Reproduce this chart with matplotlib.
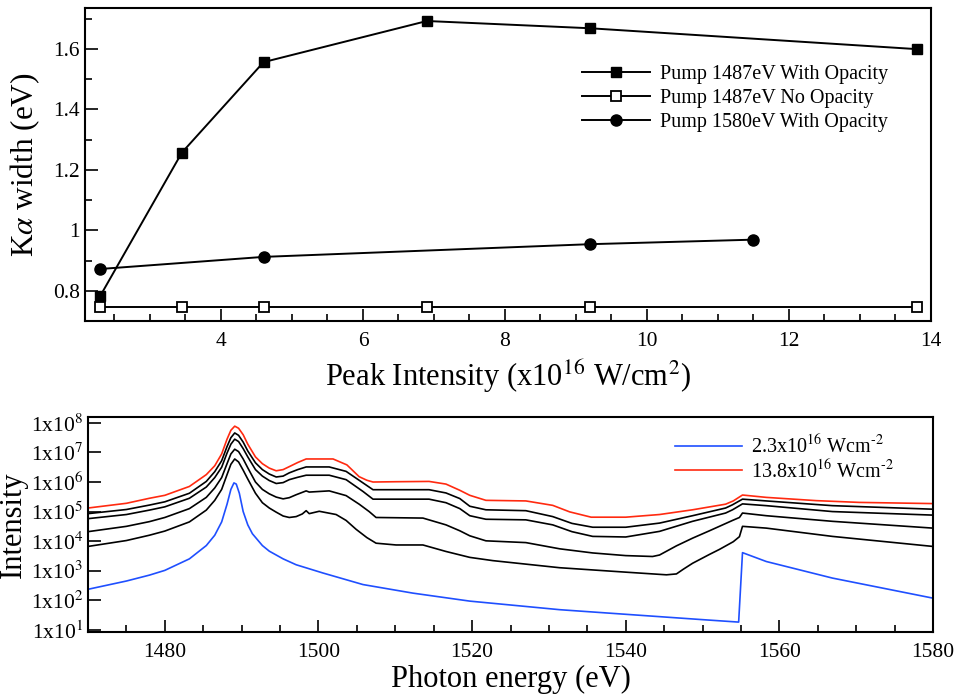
import numpy as np
import matplotlib
matplotlib.use("Agg")
import matplotlib.pyplot as plt
from matplotlib.ticker import MultipleLocator, LogLocator, FixedLocator, NullFormatter

plt.rcParams['font.family'] = ['Liberation Serif', 'DejaVu Serif']
plt.rcParams['mathtext.fontset'] = 'stix'

# ---------------- top panel data ----------------
x_sq = [2.3, 3.45, 4.6, 6.9, 9.2, 13.8]
y_sq = [0.783, 1.257, 1.556, 1.692, 1.668, 1.599]
x_open = [2.3, 3.45, 4.6, 6.9, 9.2, 13.8]
y_open = [0.747, 0.747, 0.747, 0.747, 0.747, 0.747]
x_circ = [2.3, 4.6, 9.2, 11.5]
y_circ = [0.872, 0.912, 0.954, 0.969]
labels_top = ["Pump 1487eV With Opacity", "Pump 1487eV No Opacity", "Pump 1580eV With Opacity"]

# ---------------- bottom panel data (log10 intensity) ----------------
E_red = [1470.0, 1475.0, 1478.0, 1480.0, 1483.2, 1485.4, 1486.5, 1487.4, 1488.1, 1488.6, 1489.1,
         1489.6, 1490.2, 1490.8, 1491.8, 1492.7, 1493.6, 1494.5, 1495.4, 1496.2, 1497.3, 1498.4,
         1501.9, 1503.7, 1505.3, 1506.3, 1507.1, 1510.1, 1514.4, 1516.6, 1518.4, 1519.7,
         1521.8, 1527.0, 1530.5, 1532.7, 1535.5, 1540.0, 1544.4, 1548.7, 1553.0, 1554.0, 1555.2,
         1558.3, 1564.8, 1570.4, 1580.0]
L_red = [5.12, 5.28, 5.45, 5.55, 5.85, 6.25, 6.55, 6.95, 7.45, 7.75, 7.89,
         7.82, 7.60, 7.28, 6.85, 6.62, 6.47, 6.38, 6.42, 6.52, 6.66, 6.78,
         6.78, 6.58, 6.18, 6.06, 6.00, 6.01, 6.02, 5.93, 5.72, 5.55,
         5.38, 5.36, 5.21, 4.99, 4.81, 4.81, 4.90, 5.06, 5.25, 5.36, 5.56,
         5.48, 5.37, 5.31, 5.27]

E_k1 = [1470.0, 1475.0, 1478.0, 1480.0, 1483.2, 1485.4, 1486.5, 1487.4, 1488.1, 1488.6, 1489.1,
        1489.6, 1490.2, 1490.8, 1491.8, 1492.7, 1493.6, 1494.5, 1495.4, 1496.2, 1497.3, 1498.4,
        1501.4, 1503.6, 1505.8, 1507.1, 1514.4, 1516.6, 1518.4, 1519.7, 1521.8, 1527.0,
        1530.5, 1533.0, 1535.7, 1540.0, 1544.4, 1548.7, 1553.0, 1553.9, 1555.2, 1558.3, 1566.9,
        1580.0]
L_k1 = [4.93, 5.07, 5.22, 5.33, 5.62, 6.02, 6.35, 6.72, 7.20, 7.50, 7.66,
        7.58, 7.35, 7.05, 6.65, 6.42, 6.27, 6.17, 6.20, 6.31, 6.42, 6.51,
        6.51, 6.36, 5.97, 5.74, 5.74, 5.63, 5.44, 5.18, 5.06, 5.03,
        4.83, 4.60, 4.47, 4.47, 4.61, 4.86, 5.12, 5.23, 5.42, 5.36, 5.20,
        5.08]

E_k2 = [1470.0, 1475.0, 1478.0, 1480.0, 1483.2, 1485.4, 1486.5, 1487.4, 1488.1, 1488.6, 1489.1,
        1489.6, 1490.2, 1490.8, 1491.8, 1492.7, 1493.6, 1494.5, 1495.4, 1496.2, 1497.3, 1498.4,
        1501.4, 1503.6, 1505.8, 1507.1, 1514.4, 1516.6, 1518.4, 1519.7, 1521.8, 1527.0,
        1530.5, 1533.0, 1535.7, 1540.0, 1544.4, 1548.7, 1553.0, 1553.9, 1555.2, 1558.3, 1566.9,
        1580.0]
L_k2 = [4.76, 4.90, 5.05, 5.16, 5.45, 5.83, 6.15, 6.50, 6.98, 7.28, 7.45,
        7.37, 7.13, 6.85, 6.42, 6.20, 6.05, 5.95, 5.98, 6.08, 6.16, 6.23,
        6.23, 6.08, 5.68, 5.42, 5.42, 5.30, 5.10, 4.86, 4.74, 4.72,
        4.55, 4.32, 4.16, 4.14, 4.33, 4.67, 4.95, 5.06, 5.26, 5.20, 5.00,
        4.88]

E_k3 = [1470.0, 1475.0, 1478.0, 1480.0, 1483.2, 1485.4, 1486.5, 1487.4, 1488.1, 1488.6, 1489.1,
        1489.6, 1490.2, 1490.8, 1491.8, 1492.7, 1493.6, 1494.5, 1495.4, 1496.2, 1497.1, 1498.4,
        1498.8, 1501.4, 1503.6, 1505.3, 1506.6, 1507.5, 1513.6, 1516.6, 1518.4, 1519.7, 1521.8,
        1527.0, 1531.4, 1535.7, 1540.0, 1543.5, 1544.4, 1546.6, 1548.7, 1550.9, 1553.9, 1554.8,
        1555.2, 1558.3, 1566.9, 1580.0]
L_k3 = [4.32, 4.50, 4.66, 4.80, 5.10, 5.48, 5.80, 6.15, 6.62, 6.95, 7.11,
        7.03, 6.78, 6.48, 6.00, 5.75, 5.60, 5.49, 5.43, 5.47, 5.57, 5.70,
        5.66, 5.70, 5.54, 5.25, 5.00, 4.80, 4.78, 4.55, 4.35, 4.18, 4.01,
        3.95, 3.74, 3.60, 3.51, 3.48, 3.53, 3.84, 4.10, 4.35, 4.70, 4.80,
        4.95, 4.86, 4.67, 4.44]

E_k4 = [1470.0, 1475.0, 1478.0, 1480.0, 1483.2, 1485.4, 1486.5, 1487.4, 1488.1, 1488.6, 1489.1,
        1489.6, 1490.2, 1490.8, 1491.8, 1492.7, 1493.6, 1494.5, 1495.4, 1496.2, 1497.1, 1497.9,
        1498.4, 1498.8, 1500.1, 1502.3, 1503.6, 1504.9, 1506.3, 1507.5, 1510.1, 1513.6, 1516.6,
        1519.7, 1522.7, 1531.4, 1540.0, 1545.3, 1546.6, 1547.5, 1548.7, 1550.9, 1552.2, 1554.0,
        1554.8, 1555.2, 1558.3, 1566.9, 1580.0]
L_k4 = [3.82, 4.02, 4.20, 4.34, 4.65, 5.05, 5.38, 5.75, 6.25, 6.60, 6.78,
        6.68, 6.40, 6.10, 5.62, 5.30, 5.12, 4.98, 4.85, 4.80, 4.83, 4.92,
        5.03, 4.93, 5.01, 4.90, 4.70, 4.40, 4.12, 3.93, 3.87, 3.87, 3.65,
        3.45, 3.34, 3.10, 2.95, 2.86, 2.89, 3.05, 3.25, 3.55, 3.72, 3.98,
        4.15, 4.50, 4.44, 4.16, 3.82]

E_blue = [1470.0, 1475.0, 1478.0, 1480.0, 1483.2, 1485.4, 1486.5, 1487.4, 1488.1, 1488.6, 1489.0,
          1489.3, 1489.7, 1490.2, 1490.8, 1491.4, 1492.7, 1493.6, 1495.4, 1497.1, 1500.6, 1505.8,
          1512.3, 1519.7, 1531.4, 1549.6, 1554.7, 1555.2, 1558.3, 1566.9, 1580.0]
L_blue = [2.37, 2.65, 2.85, 3.01, 3.40, 3.85, 4.20, 4.65, 5.25, 5.75, 5.97,
          5.93, 5.62, 5.00, 4.55, 4.25, 3.85, 3.66, 3.40, 3.20, 2.92, 2.53,
          2.24, 1.97, 1.68, 1.35, 1.26, 3.61, 3.31, 2.75, 2.07]

labels_bottom = [r"2.3x10$^{16}$ Wcm$^{\text{-2}}$", r"13.8x10$^{16}$ Wcm$^{\text{-2}}$"]
ytick_exp = [1, 2, 3, 4, 5, 6, 7, 8]

W, H = 961, 698
fig = plt.figure(figsize=(W / 100, H / 100), dpi=100)

def box(l, t, r, b):
    return [l / W, 1 - b / H, (r - l) / W, (b - t) / H]

# ---------------- top ----------------
ax1 = fig.add_axes(box(85, 8, 931, 321))
lw = 1.4
ax1.plot(x_sq, y_sq, color='black', lw=lw, marker='s', ms=7.5, mfc='black', mec='black',
         label=labels_top[0], zorder=3)
ax1.plot(x_open, y_open, color='black', lw=lw, marker='s', ms=7, mfc='white', mec='black',
         mew=1.3, label=labels_top[1], zorder=3)
ax1.plot(x_circ, y_circ, color='black', lw=lw, marker='o', ms=8, mfc='black', mec='black',
         label=labels_top[2], zorder=3)
ax1.set_xlim(2.085, 14.0)
ax1.set_ylim(0.70, 1.735)
ax1.xaxis.set_major_locator(MultipleLocator(2))
ax1.xaxis.set_minor_locator(MultipleLocator(0.5))
ax1.yaxis.set_major_locator(FixedLocator([0.8, 1.0, 1.2, 1.4, 1.6]))
ax1.yaxis.set_minor_locator(MultipleLocator(0.1))
ax1.set_yticklabels(["0.8", "1", "1.2", "1.4", "1.6"])
ax1.tick_params(which='both', direction='in', top=False, right=False, labelsize=15.5, width=1.2)
ax1.tick_params(which='major', length=9)
ax1.tick_params(which='minor', length=5)
ax1.tick_params(axis='x', pad=8)
for s in ax1.spines.values():
    s.set_linewidth(1.5)
ax1.set_xlabel(r"Peak Intensity (x10$^{16}$ W/cm$^{2}$)", fontsize=22, labelpad=4)
ax1.set_ylabel(r"K$\alpha$ width (eV)", fontsize=22.5, labelpad=8)
ax1.legend(loc='upper left', bbox_to_anchor=(0.5875, 0.818), frameon=False, fontsize=14.5,
           handlelength=3.4, handletextpad=0.45, labelspacing=0.25, borderpad=0,
           borderaxespad=0)

# ---------------- bottom ----------------
ax2 = fig.add_axes(box(88, 417, 933, 632))
lw2 = 1.2
for E, L in [(E_k1, L_k1), (E_k2, L_k2), (E_k3, L_k3), (E_k4, L_k4)]:
    ax2.plot(E, 10 ** np.array(L), color='black', lw=lw2, solid_joinstyle='round')
ax2.plot(E_blue, 10 ** np.array(L_blue), color='#1f4fff', lw=lw2, solid_joinstyle='round',
         label=labels_bottom[0])
ax2.plot(E_red, 10 ** np.array(L_red), color='#ff2a10', lw=lw2, solid_joinstyle='round',
         label=labels_bottom[1])
ax2.set_yscale('log')
ax2.set_xlim(1470, 1580)
ax2.set_ylim(10 ** 0.925, 10 ** 8.2)
ax2.xaxis.set_major_locator(MultipleLocator(20))
ax2.xaxis.set_minor_locator(MultipleLocator(5))
ax2.yaxis.set_major_locator(FixedLocator([10.0 ** e for e in ytick_exp]))
ax2.yaxis.set_minor_locator(LogLocator(base=10, subs=np.arange(2, 10)))
ax2.yaxis.set_minor_formatter(NullFormatter())
ax2.set_yticklabels([r"1x10$^{%d}$" % e for e in ytick_exp])
ax2.tick_params(which='both', direction='in', top=False, right=False, labelsize=15.5, width=1.2)
ax2.tick_params(which='major', length=9)
ax2.tick_params(which='minor', length=5)
ax2.tick_params(axis='y', which='minor', length=4)
ax2.tick_params(axis='x', pad=8)
for s in ax2.spines.values():
    s.set_linewidth(1.5)
ax2.set_xlabel("Photon energy (eV)", fontsize=22, labelpad=2)
ax2.set_ylabel("Intensity", fontsize=22, labelpad=2)
ax2.legend(loc='upper left', bbox_to_anchor=(0.695, 0.916), frameon=False, fontsize=14.5,
           handlelength=3.3, handletextpad=0.45, labelspacing=0.05, borderpad=0,
           borderaxespad=0)

fig.savefig("out.png", dpi=100)
